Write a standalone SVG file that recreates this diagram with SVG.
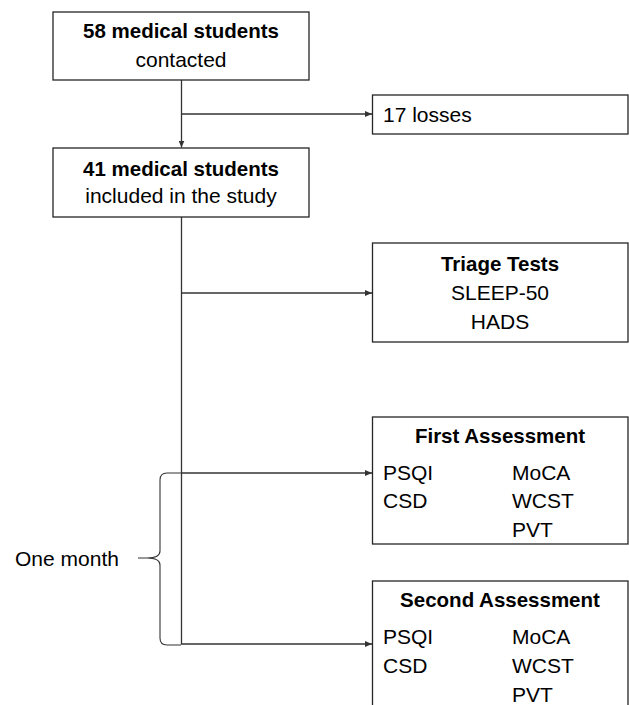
<svg xmlns="http://www.w3.org/2000/svg" width="629" height="705" viewBox="0 0 629 705">
  <style>
    .box { fill: #ffffff; stroke: #262626; stroke-width: 1.3; }
    .line { fill: none; stroke: #333333; stroke-width: 1.3; }
    .brace { fill: none; stroke: #333333; stroke-width: 1.1; }
    text { font-family: "Liberation Sans", Arial, sans-serif; fill: #000000; }
    .b { font-weight: bold; font-size: 20.5px; }
    .r { font-size: 21px; }
    .c { text-anchor: middle; }
  </style>
  <defs>
    <marker id="arrow" markerWidth="7" markerHeight="6" refX="7" refY="3" orient="auto" markerUnits="userSpaceOnUse">
      <path d="M0,0 L7,3 L0,6 z" fill="#333333"/>
    </marker>
  </defs>
  <rect width="629" height="705" fill="#ffffff"/>

  <g id="connectors">
    <line class="line" x1="181.5" y1="80" x2="181.5" y2="147.5" marker-end="url(#arrow)"/>
    <line class="line" x1="181.5" y1="114" x2="372" y2="114" marker-end="url(#arrow)"/>
    <polyline class="line" points="181.5,217 181.5,644 372,644" marker-end="url(#arrow)"/>
    <line class="line" x1="181.5" y1="293" x2="372" y2="293" marker-end="url(#arrow)"/>
    <line class="line" x1="181.5" y1="473" x2="372" y2="473" marker-end="url(#arrow)"/>
  </g>

  <g id="node-contacted">
    <rect class="box" x="53" y="12" width="256" height="68"/>
    <text class="b c" x="181" y="38">58 medical students</text>
    <text class="r c" x="181" y="67">contacted</text>
  </g>

  <g id="node-losses">
    <rect class="box" x="372.5" y="95" width="255.5" height="39"/>
    <text class="r" x="383" y="122">17 losses</text>
  </g>

  <g id="node-included">
    <rect class="box" x="53" y="148" width="256" height="69"/>
    <text class="b c" x="181" y="176">41 medical students</text>
    <text class="r c" x="181" y="203">included in the study</text>
  </g>

  <g id="node-triage">
    <rect class="box" x="372.5" y="243" width="255.5" height="99"/>
    <text class="b c" x="500" y="271">Triage Tests</text>
    <text class="r c" x="500" y="300">SLEEP-50</text>
    <text class="r c" x="500" y="329">HADS</text>
  </g>

  <g id="node-first">
    <rect class="box" x="372.5" y="417" width="255.5" height="127"/>
    <text class="b c" x="500" y="443">First Assessment</text>
    <text class="r" x="383" y="480">PSQI</text>
    <text class="r" x="383" y="508">CSD</text>
    <text class="r" x="512" y="480">MoCA</text>
    <text class="r" x="512" y="508">WCST</text>
    <text class="r" x="512" y="537">PVT</text>
  </g>

  <g id="node-second">
    <rect class="box" x="372.5" y="581" width="255.5" height="140"/>
    <text class="b c" x="500" y="607">Second Assessment</text>
    <text class="r" x="383" y="644">PSQI</text>
    <text class="r" x="383" y="673">CSD</text>
    <text class="r" x="512" y="644">MoCA</text>
    <text class="r" x="512" y="673">WCST</text>
    <text class="r" x="512" y="702">PVT</text>
  </g>

  <g id="brace-one-month">
    <path class="brace" d="M181,473 L167,473 Q160,473 160,480 L160,551 Q160,558 147,558 L138,558 L147,558 Q160,558 160,565 L160,638 Q160,645 167,645 L181,645"/>
    <text class="r" x="15" y="566">One month</text>
  </g>
</svg>
